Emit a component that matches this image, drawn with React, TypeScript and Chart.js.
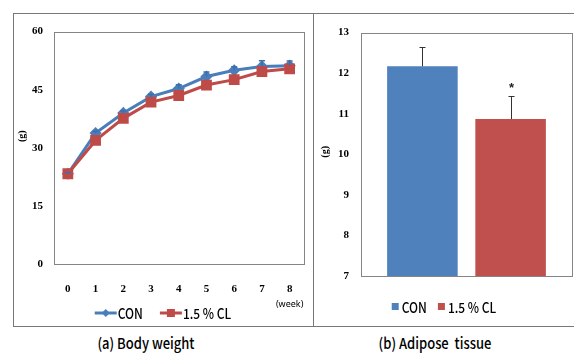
import React, { useEffect, useRef } from "react";
import { Chart, registerables } from "chart.js";
Chart.register(...registerables);

const weeks = ["0", "1", "2", "3", "4", "5", "6", "7", "8"];
const conWeight = [23.3, 33.8, 39.0, 43.2, 45.3, 48.4, 50.0, 51.0, 51.2];
const clWeight = [23.3, 31.9, 37.6, 41.8, 43.5, 46.2, 47.6, 49.7, 50.4];
const conWeightErr = [0.3, 0.5, 0.5, 0.6, 1.0, 1.2, 0.9, 1.5, 1.2];

const groups = ["CON", "1.5 % CL"];
const adipose = [12.17, 10.87];
const adiposeErr = [0.47, 0.57];
const adiposeSig = ["", "*"];

const BLUE_LINE = "#4A7EBB";
const RED_LINE = "#BE4B48";
const BLUE_BAR = "#4F81BD";
const RED_BAR = "#C0504D";
const TICK_FONT = { family: "'Liberation Serif', serif", size: 11, weight: "bold" as const };
const LEGEND_FONT = "500 12px 'Noto Sans CJK KR', 'Noto Sans', sans-serif";
const STRETCH = 1.15;

const plotFrame = {
  id: "plotFrame",
  afterDraw(chart: any) {
    const { ctx, chartArea: a } = chart;
    ctx.save();
    ctx.strokeStyle = "#858585";
    ctx.lineWidth = 1;
    ctx.strokeRect(Math.round(a.left) + 0.5, Math.round(a.top) + 0.5, Math.round(a.right - a.left), Math.round(a.bottom - a.top));
    ctx.restore();
  },
};

function drawYTitle(chart: any, dx: number, fy: number) {
  const { ctx, chartArea: a } = chart;
  ctx.save();
  ctx.translate(a.left + dx, a.top + (a.bottom - a.top) * fy);
  ctx.rotate(-Math.PI / 2);
  ctx.font = "bold 10px 'Liberation Serif', serif";
  ctx.fillStyle = "#000";
  ctx.textAlign = "center";
  ctx.textBaseline = "middle";
  ctx.fillText("(g)", 0, 0);
  ctx.restore();
}

type LegendItem = { text: string; color: string; kind: "line" | "box"; pointStyle?: string };

function drawLegend(chart: any, items: LegendItem[], y: number, symW: number, symGap: number, itemGap: number) {
  const { ctx } = chart;
  ctx.save();
  ctx.font = LEGEND_FONT;
  const widths = items.map((it) => ctx.measureText(it.text).width);
  const total = items.reduce((s, _it, i) => s + symW + symGap + widths[i], 0) + itemGap * (items.length - 1);
  let x = chart.width / 2 - total / 2;
  items.forEach((it, i) => {
    ctx.fillStyle = it.color;
    ctx.strokeStyle = it.color;
    if (it.kind === "line") {
      ctx.lineWidth = 3;
      ctx.beginPath();
      ctx.moveTo(x, y);
      ctx.lineTo(x + symW, y);
      ctx.stroke();
      const cx = x + symW / 2;
      ctx.beginPath();
      if (it.pointStyle === "rect") {
        ctx.rect(cx - 4, y - 4, 8, 8);
      } else {
        ctx.moveTo(cx, y - 4);
        ctx.lineTo(cx + 4, y);
        ctx.lineTo(cx, y + 4);
        ctx.lineTo(cx - 4, y);
        ctx.closePath();
      }
      ctx.fill();
    } else {
      ctx.fillRect(x + (symW - 7) / 2, y - 4, 7, 7);
    }
    x += symW + symGap;
    ctx.save();
    ctx.translate(x, y + 1);
    ctx.scale(1, STRETCH);
    ctx.fillStyle = "#000";
    ctx.textAlign = "left";
    ctx.textBaseline = "middle";
    ctx.fillText(it.text, 0, 0);
    ctx.restore();
    x += widths[i] + itemGap;
  });
  ctx.restore();
}

const lineExtras = {
  id: "lineExtras",
  afterDatasetsDraw(chart: any) {
    const { ctx } = chart;
    const yScale = chart.scales.y;
    const meta = chart.getDatasetMeta(0);
    ctx.save();
    ctx.strokeStyle = "#3E6FA8";
    ctx.lineWidth = 1.5;
    meta.data.forEach((pt: any, i: number) => {
      const top = yScale.getPixelForValue(conWeight[i] + conWeightErr[i]);
      ctx.beginPath();
      ctx.moveTo(pt.x, pt.y);
      ctx.lineTo(pt.x, top);
      ctx.moveTo(pt.x - 3, top);
      ctx.lineTo(pt.x + 3, top);
      ctx.stroke();
    });
    ctx.restore();
  },
  afterDraw(chart: any) {
    const { ctx, chartArea: a } = chart;
    drawYTitle(chart, -32, 0.45);
    const xScale = chart.scales.x;
    ctx.save();
    ctx.font = "9px 'Noto Sans', sans-serif";
    ctx.fillStyle = "#000";
    ctx.textAlign = "center";
    ctx.textBaseline = "middle";
    ctx.fillText("(week)", xScale.getPixelForValue(weeks.length - 1), a.bottom + 40);
    ctx.restore();
    drawLegend(
      chart,
      [
        { text: groups[0], color: BLUE_LINE, kind: "line", pointStyle: "rectRot" },
        { text: groups[1], color: RED_LINE, kind: "line", pointStyle: "rect" },
      ],
      a.bottom + 49,
      22,
      1,
      17
    );
  },
};

const barExtras = {
  id: "barExtras",
  afterDatasetsDraw(chart: any) {
    const { ctx } = chart;
    const yScale = chart.scales.y;
    ctx.save();
    ctx.strokeStyle = "#333";
    ctx.lineWidth = 1;
    chart.data.datasets.forEach((_ds: any, di: number) => {
      const bar = chart.getDatasetMeta(di).data[0];
      const x = Math.round(bar.x) + 0.5;
      const top = Math.round(yScale.getPixelForValue(adipose[di] + adiposeErr[di])) + 0.5;
      ctx.beginPath();
      ctx.moveTo(x, bar.y);
      ctx.lineTo(x, top);
      ctx.moveTo(x - 3, top);
      ctx.lineTo(x + 3, top);
      ctx.stroke();
      if (adiposeSig[di]) {
        ctx.fillStyle = "#222";
        ctx.font = "bold 13px 'Liberation Sans', sans-serif";
        ctx.textAlign = "center";
        ctx.textBaseline = "middle";
        ctx.fillText(adiposeSig[di], x, top - 8);
      }
    });
    ctx.restore();
  },
  afterDraw(chart: any) {
    const a = chart.chartArea;
    drawYTitle(chart, -36, 0.49);
    drawLegend(
      chart,
      [
        { text: groups[0], color: BLUE_BAR, kind: "box" },
        { text: groups[1], color: RED_BAR, kind: "box" },
      ],
      a.bottom + 31,
      7,
      3,
      11
    );
  },
};

function BodyWeightChart() {
  const ref = useRef<HTMLCanvasElement>(null);
  useEffect(() => {
    const chart = new Chart(ref.current as HTMLCanvasElement, {
      type: "line",
      data: {
        labels: weeks,
        datasets: [
          {
            label: groups[0],
            data: conWeight,
            borderColor: BLUE_LINE,
            backgroundColor: BLUE_LINE,
            borderWidth: 3,
            pointStyle: "rectRot",
            pointRadius: 4,
            tension: 0,
            order: 1,
          },
          {
            label: groups[1],
            data: clWeight,
            borderColor: RED_LINE,
            backgroundColor: RED_LINE,
            borderWidth: 3,
            pointStyle: "rect",
            pointRadius: 5.5,
            tension: 0,
            order: 0,
          },
        ],
      },
      options: {
        animation: false,
        responsive: false,
        layout: { padding: { left: 0, right: 8, top: 17, bottom: 0 } },
        plugins: { legend: { display: false }, tooltip: { enabled: false } },
        scales: {
          x: {
            type: "category",
            offset: true,
            grid: { display: false, drawTicks: false },
            border: { display: false },
            ticks: { font: TICK_FONT, color: "#000", padding: 19, maxRotation: 0 },
            afterFit: (s: any) => {
              s.height = 61;
            },
          },
          y: {
            min: 0,
            max: 60,
            grid: { display: false, drawTicks: false },
            border: { display: false },
            ticks: { stepSize: 15, font: TICK_FONT, color: "#000", padding: 11 },
            afterFit: (s: any) => {
              s.width = 40;
            },
          },
        },
      },
      plugins: [plotFrame, lineExtras],
    });
    return () => chart.destroy();
  }, []);
  return <canvas ref={ref} width={298} height={311} style={{ position: "absolute", left: 14, top: 14, width: 298, height: 311 }} />;
}

function AdiposeChart() {
  const ref = useRef<HTMLCanvasElement>(null);
  useEffect(() => {
    const chart = new Chart(ref.current as HTMLCanvasElement, {
      type: "bar",
      data: {
        labels: [""],
        datasets: [
          { label: groups[0], data: [adipose[0]], backgroundColor: BLUE_BAR, barPercentage: 0.8, categoryPercentage: 0.836 },
          { label: groups[1], data: [adipose[1]], backgroundColor: RED_BAR, barPercentage: 0.8, categoryPercentage: 0.836 },
        ],
      },
      options: {
        animation: false,
        responsive: false,
        layout: { padding: { left: 0, right: 2, top: 14, bottom: 0 } },
        plugins: { legend: { display: false }, tooltip: { enabled: false } },
        scales: {
          x: {
            type: "category",
            grid: { display: false, drawTicks: false },
            border: { display: false },
            ticks: { display: false },
            afterFit: (s: any) => {
              s.height = 49;
            },
          },
          y: {
            min: 7,
            max: 13,
            grid: { display: false, drawTicks: false },
            border: { display: false },
            ticks: { stepSize: 1, font: TICK_FONT, color: "#000", padding: 12 },
            afterFit: (s: any) => {
              s.width = 47;
            },
          },
        },
      },
      plugins: [plotFrame, barExtras],
    });
    return () => chart.destroy();
  }, []);
  return <canvas ref={ref} width={260} height={311} style={{ position: "absolute", left: 314, top: 14, width: 260, height: 311 }} />;
}

export default function App() {
  const caption: React.CSSProperties = {
    position: "absolute",
    top: 334,
    font: "500 13px 'Noto Sans CJK KR', 'Noto Sans', sans-serif",
    color: "#000",
    textAlign: "center",
    width: 200,
    lineHeight: "18px",
    whiteSpace: "pre",
    transform: `scaleY(${STRETCH})`,
  };
  return (
    <div style={{ position: "absolute", left: 0, top: 0, width: 574, height: 353, background: "#fff", overflow: "hidden" }}>
      <div style={{ position: "absolute", left: 13, top: 13, width: 600, height: 312, border: "1px solid #777", boxSizing: "content-box" }} />
      <div style={{ position: "absolute", left: 313, top: 13, width: 1, height: 313, background: "#777" }} />
      <BodyWeightChart />
      <AdiposeChart />
      <div style={{ ...caption, left: 46 }}>(a) Body weight</div>
      <div style={{ ...caption, left: 335 }}>(b) Adipose  tissue</div>
    </div>
  );
}
